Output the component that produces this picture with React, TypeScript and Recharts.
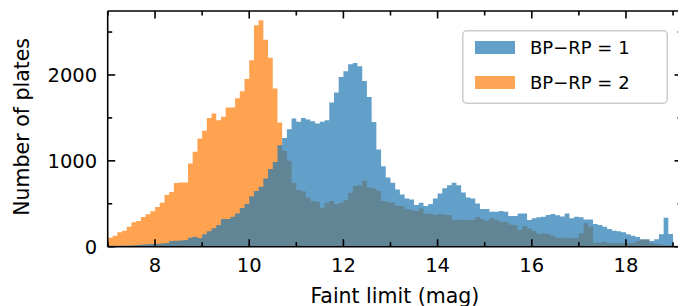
import { ComposedChart, Area, XAxis, YAxis, Legend } from 'recharts'

// histogram bins: 0.1 mag wide, starting at 7.0
const binStart = 7.0
const binWidth = 0.1

// BP-RP = 1 counts per bin
const countsBp1 = [
  10, 10, 12, 14, 15, 18, 20, 25, 28, 30,
  35, 38, 42, 65, 70, 72, 78, 105, 116, 100,
  144, 180, 214, 252, 322, 322, 349, 388, 450, 496,
  589, 648, 698, 795, 905, 985, 1182, 1267, 1368, 1493,
  1454, 1500, 1481, 1462, 1434, 1454, 1473, 1679, 1795, 1977,
  2043, 2124, 2140, 2101, 1930, 1744, 1453, 1132, 938, 807,
  744, 667, 609, 562, 551, 485, 512, 473, 496, 560,
  620, 680, 715, 744, 717, 632, 574, 562, 504, 438,
  438, 407, 407, 415, 407, 357, 357, 388, 388, 310,
  330, 342, 349, 368, 380, 365, 353, 388, 330, 349,
  342, 318, 318, 264, 252, 233, 206, 186, 179, 167,
  144, 128, 113, 86, 86, 66, 86, 144, 337, 148,
]

// BP-RP = 2 counts per bin
const countsBp2 = [
  105, 128, 167, 186, 233, 284, 299, 345, 377, 412,
  462, 512, 601, 636, 741, 749, 749, 970, 1105, 1260,
  1349, 1500, 1551, 1473, 1512, 1621, 1621, 1729, 1810, 1953,
  2171, 2578, 2636, 2411, 2202, 1842, 1446, 1116, 1000, 744,
  659, 647, 574, 531, 523, 454, 512, 531, 493, 512,
  543, 628, 706, 717, 767, 690, 679, 651, 531, 523,
  512, 477, 473, 435, 426, 415, 446, 388, 380, 368,
  380, 375, 368, 310, 318, 310, 310, 310, 342, 322,
  302, 330, 310, 291, 291, 260, 252, 194, 240, 213,
  182, 148, 155, 148, 128, 105, 105, 97, 97, 105,
  155, 272, 233, 47, 47, 58, 39, 39, 39, 47,
  39, 47, 66, 80, 85, 39, 30, 25, 20, 15,
]

const xMajorTicks = [8, 10, 12, 14, 16, 18]
const xMinorTicks = [7, 9, 11, 13, 15, 17, 19]
const yMajorTicks = [0, 1000, 2000]
const yMinorTicks = [500, 1500, 2500]

const legendItems = [
  { label: 'BP\u2212RP = 1', color: '#1f77b4' },
  { label: 'BP\u2212RP = 2', color: '#ff7f0e' },
]

// one row per bin edge; the extra last row closes the final step
const rows = Array.from({ length: countsBp1.length + 1 }, (_, i) => {
  const k = Math.min(i, countsBp1.length - 1)
  return {
    mag: Number((binStart + i * binWidth).toFixed(1)),
    bp1: countsBp1[k],
    bp2: countsBp2[k],
  }
})

const xTicks = [...xMajorTicks, ...xMinorTicks].sort((a, b) => a - b)
const yTicks = [...yMajorTicks, ...yMinorTicks].sort((a, b) => a - b)

const FONT = 'DejaVu Sans, sans-serif'
const TICK_FS = 19.5
const LABEL_FS = 20.5
const MAJOR = 7.5
const MINOR = 4.5
const LW = 1.6

function BottomTick({ x, y, payload }: any) {
  const major = xMajorTicks.includes(payload.value)
  return (
    <g>
      <line x1={x} x2={x} y1={y} y2={y - (major ? MAJOR : MINOR)} stroke="#000" strokeWidth={LW} />
      {major && (
        <text x={x} y={y + 25} textAnchor="middle" fontSize={TICK_FS} fontFamily={FONT} fill="#000">
          {payload.value}
        </text>
      )}
    </g>
  )
}

function TopTick({ x, y, payload }: any) {
  const major = xMajorTicks.includes(payload.value)
  return <line x1={x} x2={x} y1={y} y2={y + (major ? MAJOR : MINOR)} stroke="#000" strokeWidth={LW} />
}

function LeftTick({ x, y, payload }: any) {
  const major = yMajorTicks.includes(payload.value)
  return (
    <g>
      <line x1={x} x2={x + (major ? MAJOR : MINOR)} y1={y} y2={y} stroke="#000" strokeWidth={LW} />
      {major && (
        <text x={x - 10.5} y={y} dy="0.36em" textAnchor="end" fontSize={TICK_FS} fontFamily={FONT} fill="#000">
          {payload.value}
        </text>
      )}
    </g>
  )
}

function RightTick({ x, y, payload }: any) {
  const major = yMajorTicks.includes(payload.value)
  return <line x1={x} x2={x - (major ? MAJOR : MINOR)} y1={y} y2={y} stroke="#000" strokeWidth={LW} />
}

function renderLegend() {
  return (
    <svg width={206} height={74} style={{ display: 'block' }}>
      <rect x={0.75} y={0.75} width={204.5} height={72.5} rx={4} fill="#fff" fillOpacity={0.8} stroke="#ccc" strokeWidth={1.5} />
      {legendItems.map((item, i) => (
        <g key={item.label}>
          <rect x={13} y={11 + i * 35} width={40} height={13} fill={item.color} fillOpacity={0.7} />
          <text x={68} y={24 + i * 35} fontSize={18} fontFamily={FONT} fill="#000">
            {item.label}
          </text>
        </g>
      ))}
    </svg>
  )
}

export default function App() {
  return (
    <ComposedChart
      width={678}
      height={298}
      data={rows}
      margin={{ top: 2, right: 3, bottom: 0, left: 0 }}
    >
      <XAxis
        dataKey="mag"
        type="number"
        domain={[6.995, 19.19]}
        ticks={xTicks}
        interval={0}
        allowDataOverflow
        height={59.3}
        tickSize={0}
        tickMargin={0}
        tick={<BottomTick />}
        axisLine={{ stroke: '#000', strokeWidth: LW }}
        label={(props: any) => {
          const vb = props.viewBox
          return (
            <text x={vb.x + vb.width / 2} y={vb.y + 56} textAnchor="middle" fontSize={LABEL_FS} fontFamily={FONT} fill="#000">
              Faint limit (mag)
            </text>
          )
        }}
      />
      <XAxis
        xAxisId="top"
        orientation="top"
        dataKey="mag"
        type="number"
        domain={[6.995, 19.19]}
        ticks={xTicks}
        interval={0}
        allowDataOverflow
        height={1}
        tickSize={0}
        tickMargin={0}
        tick={<TopTick />}
        axisLine={{ stroke: '#000', strokeWidth: LW }}
      />
      <YAxis
        type="number"
        domain={[0, 2745]}
        ticks={yTicks}
        interval={0}
        allowDataOverflow
        width={99.7}
        tickSize={0}
        tickMargin={0}
        tick={<LeftTick />}
        axisLine={{ stroke: '#000', strokeWidth: LW }}
        label={(props: any) => {
          const vb = props.viewBox
          const cy = vb.y + vb.height / 2 - 2
          return (
            <text transform={`translate(20.5,${cy}) rotate(-90)`} textAnchor="middle" fontSize={LABEL_FS} fontFamily={FONT} fill="#000">
              Number of plates
            </text>
          )
        }}
      />
      <YAxis
        yAxisId="right"
        orientation="right"
        type="number"
        domain={[0, 2745]}
        ticks={yTicks}
        interval={0}
        allowDataOverflow
        width={1}
        tickSize={0}
        tickMargin={0}
        tick={<RightTick />}
        axisLine={{ stroke: '#000', strokeWidth: LW }}
      />
      <Area
        dataKey="bp2"
        name="BP-RP = 2"
        xAxisId="top"
        yAxisId="right"
        type="stepAfter"
        fill="#ff7f0e"
        fillOpacity={0.72}
        stroke="none"
        isAnimationActive={false}
        dot={false}
        activeDot={false}
      />
      <Area
        dataKey="bp1"
        name="BP-RP = 1"
        type="stepAfter"
        fill="#1f77b4"
        fillOpacity={0.7}
        stroke="none"
        isAnimationActive={false}
        dot={false}
        activeDot={false}
      />
      <Legend
        layout="vertical"
        align="center"
        verticalAlign="middle"
        content={renderLegend}
        wrapperStyle={{ position: 'absolute', left: 454, top: 22, width: 206, height: 74 }}
      />
    </ComposedChart>
  )
}
